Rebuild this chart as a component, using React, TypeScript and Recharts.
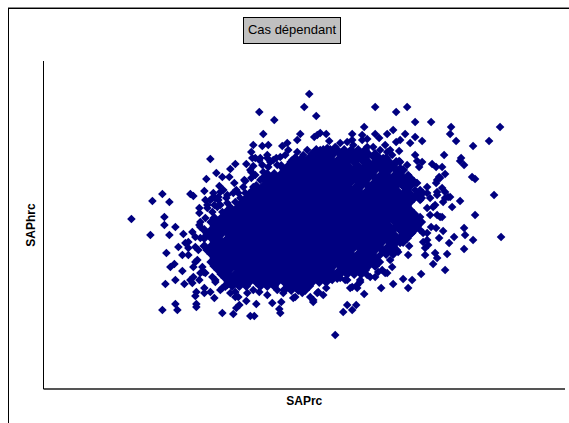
import React from 'react';
import { ScatterChart, Scatter, XAxis, YAxis } from 'recharts';

const title = 'Cas dépendant';
const xLabel = 'SAPrc';
const yLabel = 'SAPhrc';

// Axis units have no printed ticks, so these are read off as plain distances along each axis
const xDomain = [0, 522];
const yDomain = [0, 328];

// Separate points around the edge of the cloud [SAPrc, SAPhrc]
const edgePoints: [number, number][] = [
  [266,295],[261,282],[273,273],[216,277],[231,269],[220,255],[257,255],[254,249],[274,254],[271,252],
  [210,244],[219,243],[225,244],[244,246],[239,243],[245,239],[208,237],[167,230],[192,225],[203,225],
  [187,220],[173,216],[179,212],[186,212],[163,210],[191,206],[176,203],[161,198],[119,195],[109,188],
  [126,187],[147,195],[150,193],[210,223],[208,217],[208,211],[202,208],[212,231],[216,229],[224,234],
  [230,229],[237,232],[225,222],[180,199],[190,196],[170,196],[156,181],[164,181],[169,191],[175,192],
  [184,186],[174,182],[195,196],[200,202],[210,202],[217,209],[249,229],
  [332,282],[353,277],[364,282],[372,267],[388,267],[408,262],[407,255],[457,262],[413,248],[446,248],
  [430,243],[321,262],[283,255],[277,256],[309,255],[332,255],[336,251],[344,255],[350,259],[362,255],
  [372,252],[367,246],[379,248],[357,249],[353,247],[286,248],[309,249],[319,254],[319,249],[324,250],
  [342,244],[347,239],[356,238],[372,234],[401,234],[418,231],[417,228],[421,224],[374,228],[379,227],
  [376,222],[364,224],[356,228],[389,225],[393,222],[399,222],[402,215],[396,212],[393,206],[429,212],
  [432,210],[451,194],[417,188],[409,182],[407,192],[402,197],[399,201],[384,202],[373,206],[380,196],
  [394,197],[390,182],[400,187],
  [88,170],[121,172],[121,164],[132,162],[107,154],[126,154],[140,155],[149,157],[156,164],[156,176],
  [135,142],[142,146],[145,141],[123,136],[139,134],[145,134],[152,127],[127,122],[131,125],[139,118],
  [150,122],[132,109],[122,105],[141,105],[147,109],[156,109],[149,106],[153,97],[152,93],[161,101],
  [161,96],[167,97],[171,91],[132,85],[119,79],[134,79],[153,85],[153,82],[179,76],[190,75],
  [193,81],[196,84],[207,73],[211,73],[213,85],[203,88],[204,96],[192,92],[187,96],[216,97],
  [229,86],[238,87],[236,80],[237,76],[250,91],[270,87],[274,96],[177,99],[172,109],[159,122],[160,117],
  [292,54],[300,77],[309,79],[304,84],[313,84],[321,95],[283,101],[280,94],[307,101],[314,101],
  [317,107],[302,109],[338,101],[350,105],[360,110],[365,101],[369,109],[378,115],[332,112],[402,119],
  [390,125],[394,131],[392,136],[404,135],[421,140],[430,149],[458,152],[411,152],[406,146],[422,154],
  [421,161],[432,174],[400,158],[396,151],[382,134],[366,143],[365,134],[393,161],[388,162],[384,156],
  [380,147],[397,172],[349,122],[344,116],[339,119],[327,112],
];

// Clumps that join the separate points to the solid middle
const fringePoints: [number, number][] = [
  [209,231],[217,231],[224,231],[264,239],[270,234],[257,229],[249,226],[234,224],[220,217],[202,196],
  [197,191],[192,187],[184,194],[177,197],[172,191],[177,184],[187,182],[167,189],[162,189],[171,184],
  [179,177],[169,177],[162,171],[171,169],[164,184],[175,189],[183,191],[193,199],[201,209],[207,219],
  [212,214],[219,224],[227,227],[233,231],[242,234],[254,237],[260,234],
  [277,239],[284,241],[292,242],[297,246],[304,247],[310,244],[324,242],[330,242],[337,239],[344,237],
  [349,234],[340,231],[357,227],[357,221],[365,214],[374,206],[377,199],[384,196],[377,189],[387,191],
  [394,194],[402,191],[405,192],[392,184],[384,181],[367,209],[372,199],[394,209],[397,211],
  [387,174],[394,174],[399,172],[377,172],[370,166],[377,159],[369,156],[380,156],[384,149],[385,144],
  [382,141],[357,146],[355,137],[347,129],[342,116],[335,117],[324,114],[317,109],[314,104],[309,102],
  [304,109],[297,111],[289,109],[282,111],
  [157,167],[157,162],[152,152],[157,151],[145,147],[152,142],[155,139],[154,129],[150,112],[157,116],
  [162,116],[169,112],[172,107],[179,101],[184,104],[192,97],[195,92],[210,99],[224,94],[234,99],
  [240,96],[252,92],[259,96],[267,92],[270,89],[275,97],
];

// Points that sit a little off the rows in the solid middle
const innerPoints: [number, number][] = [
  [183,150],[188,120],[310,140],[337,134],[352,154],[344,142],[350,168],[295,118],[355,198],[323,198],
  [312,202],[330,206],[307,222],[298,226],[319,228],[337,214],[351,214],[295,230],[330,232],
];

// Dense middle of the cloud, one SAPhrc level per row with the SAPrc values on it
const coreRows: [number, number[]][] = [
  [239, [273,280,287,294,301,308,315,322]],
  [235, [269,276,283,290,297,304,311,318,325,332]],
  [231, [252,259,266,273,280,287,301,308,315,322,336,343]],
  [227, [248,255,262,269,276,283,290,304,311,325,332,339,346,353]],
  [223, [238,245,252,259,266,273,280,287,294,301,315,322,329,336,343,350]],
  [219, [241,248,255,262,269,276,283,290,297,304,311,318,325,332,339,346,353,360]],
  [215, [224,231,238,245,252,259,266,273,280,287,294,301,308,315,322,329,343,357]],
  [211, [220,227,234,241,248,255,262,269,276,283,290,297,304,311,318,325,332,339,346,353,360,367]],
  [207, [224,231,238,245,252,259,266,273,280,287,294,301,308,315,322,336,343,350,357,364,371]],
  [203, [213,220,227,234,241,248,255,262,269,276,283,290,297,304,318,325,332,339,346,353,360,367]],
  [199, [210,217,224,231,238,245,252,259,266,273,280,287,294,301,308,315,329,336,343,350,364]],
  [195, [206,213,220,227,234,241,248,255,262,269,276,283,290,297,304,311,318,325,332,339,346,353,360,367,374]],
  [191, [203,210,217,224,231,238,245,252,259,266,273,280,287,294,301,308,315,322,329,336,343,350,357,364,371,378]],
  [187, [199,206,213,220,227,234,241,248,255,262,269,276,283,290,297,304,311,318,325,332,339,346,353,360,367]],
  [183, [196,203,210,217,224,231,238,245,252,259,266,273,280,287,294,301,308,315,322,329,336,343,350,357,364]],
  [179, [185,192,199,206,213,220,227,234,241,248,255,262,269,276,283,290,297,304,311,318,325,332,339,346,353,360,367]],
  [175, [182,189,196,203,210,217,224,231,238,245,252,259,266,273,280,287,294,301,308,315,322,329,336,343,350,357,364,371]],
  [171, [171,178,185,192,199,206,213,220,227,234,241,248,255,262,269,276,283,290,297,304,311,318,325,332,339,346,353,360,367,374]],
  [167, [168,175,182,189,196,203,210,217,224,231,238,245,252,259,266,273,280,287,294,301,308,315,322,329,336,343,357,364,371,378]],
  [163, [171,178,185,192,199,206,213,220,227,234,241,248,255,262,269,276,283,290,297,304,311,318,325,332,339,346,353,360,367,374]],
  [159, [161,168,175,182,189,196,203,210,217,224,231,238,245,252,259,266,273,280,287,294,301,308,315,322,329,336,343,350,357,364,371]],
  [155, [164,171,178,185,192,199,206,213,220,227,234,241,248,255,262,269,276,283,290,297,304,311,318,325,332,339,346,360,367]],
  [151, [161,168,175,189,196,203,210,217,224,231,238,245,252,259,266,273,280,287,294,301,308,315,322,329,336,343,350,357,364]],
  [147, [171,178,185,192,199,206,213,220,227,234,241,248,255,262,269,276,283,290,297,304,311,318,325,332,339,346,353,360]],
  [143, [161,168,175,182,189,196,203,210,217,224,231,238,245,252,259,266,273,280,287,294,301,308,315,322,329,336,350]],
  [139, [164,171,178,185,192,199,206,213,220,227,234,241,248,255,262,269,276,283,290,297,304,318,325,332,339,346,353]],
  [135, [168,175,182,189,196,203,210,217,224,231,238,245,252,259,266,273,280,287,294,301,308,315,322,329,343,350]],
  [131, [171,178,185,192,199,206,213,220,227,234,241,248,255,262,269,276,283,290,297,304,311,318,325,332]],
  [127, [168,175,182,189,196,203,210,217,224,231,238,245,252,259,266,273,280,287,294,301,308,315,322,329,336]],
  [123, [171,178,185,192,199,206,213,220,227,234,241,248,255,262,269,276,283,290,297,304,311,318,325,332]],
  [119, [175,182,196,203,210,217,224,231,238,245,252,259,266,273,280,287,301,308,315,322]],
  [115, [178,185,192,199,206,213,220,227,234,241,248,255,262,269,276,283,290,297,304,311,318]],
  [111, [182,189,196,203,210,217,224,231,238,245,252,259,266,273,280,287,294]],
  [107, [185,192,199,206,213,220,227,234,241,248,255,262,269,276,283]],
  [103, [182,189,196,203,217,224,231,245,252,259,266]],
  [99, [241,248,255,262]],
];

const edgeData = [...edgePoints, ...fringePoints, ...innerPoints].map(([saprc, saphrc]) => ({ saprc, saphrc }));
const coreData = coreRows.flatMap(([saphrc, values]) => values.map((saprc) => ({ saprc, saphrc })));

const MARK_COLOR = '#000080';

// Square-ish diamond, the built-in one is too narrow
const diamondAt = (cx: number, cy: number, r: number) => (
  <polygon points={`${cx},${cy - r} ${cx + r},${cy} ${cx},${cy + r} ${cx - r},${cy}`} fill={MARK_COLOR} />
);
const Diamond = ({ cx, cy }: any) => diamondAt(cx, cy, 4.3);
// A touch larger so the seams between packed marks close up
const CoreDiamond = ({ cx, cy }: any) => diamondAt(cx, cy, 5);

export default function App() {
  return (
    <div style={{ position: 'fixed', left: 0, top: 0, width: 569, height: 423, background: '#fff', overflow: 'hidden', fontFamily: '"Liberation Sans", Arial, sans-serif' }}>
      {/* Page frame */}
      <div style={{ position: 'absolute', left: 8, top: 7, right: 0, height: 1, background: '#888' }} />
      <div style={{ position: 'absolute', left: 8, top: 8, right: 0, height: 1, background: '#000' }} />
      <div style={{ position: 'absolute', left: 8, top: 8, bottom: 0, width: 1, background: '#000' }} />

      <ScatterChart width={569} height={423} margin={{ top: 61, right: 4, bottom: 0, left: 0 }} style={{ position: 'absolute', left: 0, top: 0 }}>
        <XAxis
          type="number"
          dataKey="saprc"
          domain={xDomain}
          height={34}
          tick={false}
          tickLine={false}
          axisLine={{ stroke: '#555', strokeWidth: 2 }}
          label={{ value: xLabel, position: 'insideBottom', offset: 18, fill: '#000', fontSize: 12, fontWeight: 700 }}
        />
        <YAxis
          type="number"
          dataKey="saphrc"
          domain={yDomain}
          width={43.5}
          tick={false}
          tickLine={false}
          axisLine={{ stroke: '#000', strokeWidth: 1 }}
          label={{ value: yLabel, angle: -90, position: 'insideLeft', offset: 31, textAnchor: 'middle', fill: '#000', fontSize: 12, fontWeight: 700 }}
        />
        <Scatter data={coreData} shape={CoreDiamond} isAnimationActive={false} />
        <Scatter data={edgeData} shape={Diamond} isAnimationActive={false} />
      </ScatterChart>

      <div style={{ position: 'absolute', left: 243, top: 17, width: 96, height: 25, background: '#c0c0c0', border: '1px solid #000', color: '#000', fontSize: 13, lineHeight: '23px', textAlign: 'center', whiteSpace: 'nowrap' }}>
        {title}
      </div>
    </div>
  );
}
